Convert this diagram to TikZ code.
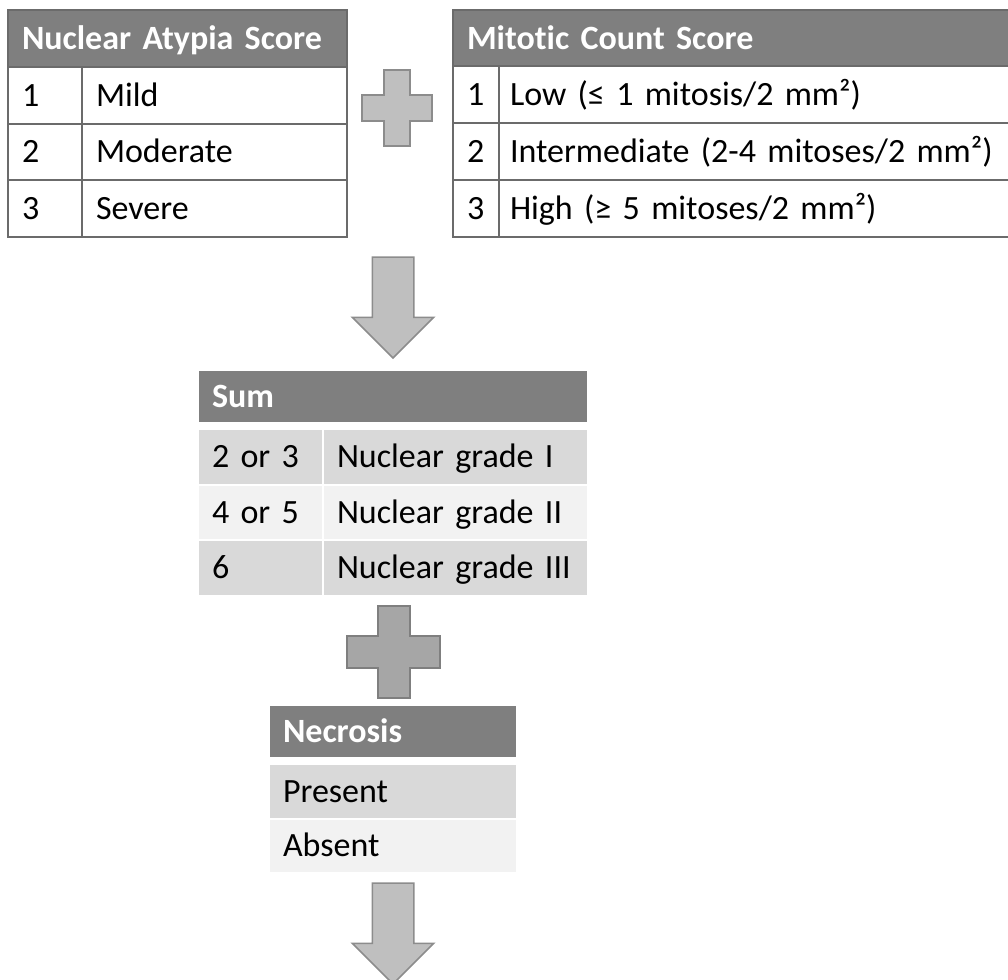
\documentclass[tikz,border=0pt]{standalone}
\usepackage{fontspec}
\setmainfont{Carlito}[Ligatures=NoCommon,WordSpace=0.85]
\usepackage{xcolor}
\definecolor{ScoreHead}{HTML}{7F7F7F}
\definecolor{ScoreGrid}{HTML}{6B6B6B}
\definecolor{SumDark}{HTML}{D9D9D9}
\definecolor{SumLight}{HTML}{F2F2F2}
\definecolor{ArrowFill}{HTML}{BFBFBF}
\definecolor{ArrowEdge}{HTML}{8C8C8C}
\definecolor{PlusFill}{HTML}{A6A6A6}
\definecolor{PlusEdge}{HTML}{7F7F7F}
\usepackage{tikz}
\usetikzlibrary{positioning,shapes.arrows}

\begin{document}
\begin{tikzpicture}[x=0.5pt,y=-0.5pt,
    every node/.style={font=\fontsize{17}{20}\selectfont,outer sep=0pt},
    gridhead/.style={draw=ScoreGrid,line width=1pt,fill=ScoreHead,text=white,font=\fontsize{17}{20}\selectfont\bfseries,
      align=left,inner xsep=7pt,inner ysep=0pt,text height=14pt,text depth=3pt,anchor=north west},
    gridcell/.style={draw=ScoreGrid,line width=1pt,fill=white,align=left,inner xsep=7pt,inner ysep=0pt,
      text height=14pt,text depth=3pt,anchor=north west},
    sumhead/.style={draw=white,line width=1pt,fill=ScoreHead,text=white,font=\fontsize{17}{20}\selectfont\bfseries,
      align=left,inner xsep=7pt,inner ysep=0pt,text height=14pt,text depth=3pt},
    sumcell/.style={draw=white,line width=1pt,align=left,inner xsep=7pt,inner ysep=0pt,
      text height=14pt,text depth=3pt,anchor=north west},
    blockarrow/.style={single arrow,draw=ArrowEdge,fill=ArrowFill,line width=.75pt,shape border rotate=270,
      minimum width=40pt,single arrow head extend=10pt,minimum height=50.5pt,inner sep=10pt,anchor=tail},
    pluslight/.style={draw=ArrowEdge,fill=ArrowFill,line width=1pt},
    plusdark/.style={draw=PlusEdge,fill=PlusFill,line width=1pt}
  ]
    \useasboundingbox (0,0) rectangle (1008,980);
    \clip (0,0) rectangle (1008,980);

    % nuclear atypia
    \node[gridhead,text width=155.5pt,minimum height=28.5pt] (atyHead) at (8,10) {Nuclear Atypia Score};
    \node[gridcell,text width=23pt,minimum height=28.25pt,below right=0pt and 0pt of atyHead.south west] (aty1n) {1};
    \node[gridcell,text width=118.5pt,minimum height=28.25pt,below right=0pt and 0pt of aty1n.north east] (aty1t) {Mild};
    \node[gridcell,text width=23pt,minimum height=28.25pt,below right=0pt and 0pt of aty1n.south west] (aty2n) {2};
    \node[gridcell,text width=118.5pt,minimum height=28.25pt,below right=0pt and 0pt of aty2n.north east] (aty2t) {Moderate};
    \node[gridcell,text width=23pt,minimum height=28.25pt,below right=0pt and 0pt of aty2n.south west] (aty3n) {3};
    \node[gridcell,text width=118.5pt,minimum height=28.25pt,below right=0pt and 0pt of aty3n.north east] (aty3t) {Severe};

    % mitotic count
    \node[gridhead,text width=267pt,minimum height=28pt] (mitHead) at (453,10) {Mitotic Count Score};
    \node[gridcell,text width=9pt,minimum height=28.5pt,below right=0pt and 0pt of mitHead.south west] (mit1n) {1};
    \node[gridcell,text width=247pt,inner xsep=5.5pt,minimum height=28.5pt,below right=0pt and 0pt of mit1n.north east] (mit1t)
      {Low (≤ 1 mitosis/2 mm²)};
    \node[gridcell,text width=9pt,minimum height=28.5pt,below right=0pt and 0pt of mit1n.south west] (mit2n) {2};
    \node[gridcell,text width=247pt,inner xsep=5.5pt,minimum height=28.5pt,below right=0pt and 0pt of mit2n.north east] (mit2t)
      {Intermediate (2-4 mitoses/2 mm²)};
    \node[gridcell,text width=9pt,minimum height=28.5pt,below right=0pt and 0pt of mit2n.south west] (mit3n) {3};
    \node[gridcell,text width=247pt,inner xsep=5.5pt,minimum height=28.5pt,below right=0pt and 0pt of mit3n.north east] (mit3t)
      {High (≥ 5 mitoses/2 mm²)};

    \draw[pluslight] (384,70) -- ++(26,0) -- ++(0,25) -- ++(22,0) -- ++(0,26) -- ++(-22,0) -- ++(0,25)
      -- ++(-26,0) -- ++(0,-25) -- ++(-22,0) -- ++(0,-26) -- ++(22,0) -- cycle;

    \node[blockarrow] (toSum) at (393,257) {};

    % sum
    \node[sumhead,text width=181pt,minimum height=26.5pt,below=6pt of toSum.tip] (sumHead) {Sum};
    \node[sumcell,fill=SumDark,text width=48.5pt,minimum height=27.75pt,below right=3pt and 0pt of sumHead.south west] (sum1n) {2 or 3};
    \node[sumcell,fill=SumDark,text width=118.5pt,minimum height=27.75pt,below right=0pt and 0pt of sum1n.north east] (sum1t) {Nuclear grade I};
    \node[sumcell,fill=SumLight,text width=48.5pt,minimum height=27.75pt,below right=0pt and 0pt of sum1n.south west] (sum2n) {4 or 5};
    \node[sumcell,fill=SumLight,text width=118.5pt,minimum height=27.75pt,below right=0pt and 0pt of sum2n.north east] (sum2t) {Nuclear grade II};
    \node[sumcell,fill=SumDark,text width=48.5pt,minimum height=27.75pt,below right=0pt and 0pt of sum2n.south west] (sum3n) {6};
    \node[sumcell,fill=SumDark,text width=118.5pt,minimum height=27.75pt,below right=0pt and 0pt of sum3n.north east] (sum3t) {Nuclear grade III};

    \draw[plusdark] (377.5,606) -- ++(32,0) -- ++(0,30) -- ++(30.5,0) -- ++(0,32) -- ++(-30.5,0) -- ++(0,30)
      -- ++(-32,0) -- ++(0,-30) -- ++(-30.5,0) -- ++(0,-32) -- ++(30.5,0) -- cycle;

    % necrosis
    \node[sumhead,text width=110pt,minimum height=26.5pt,anchor=north] (necHead) at (393,705) {Necrosis};
    \node[sumcell,fill=SumDark,text width=110pt,minimum height=27.25pt,below right=3pt and 0pt of necHead.south west] (nec1) {Present};
    \node[sumcell,fill=SumLight,text width=110pt,minimum height=27.25pt,below right=0pt and 0pt of nec1.south west] (nec2) {Absent};

    \node[blockarrow] (toGrade) at ([yshift=-5pt]nec2.south) {};
  \end{tikzpicture}
\end{document}
